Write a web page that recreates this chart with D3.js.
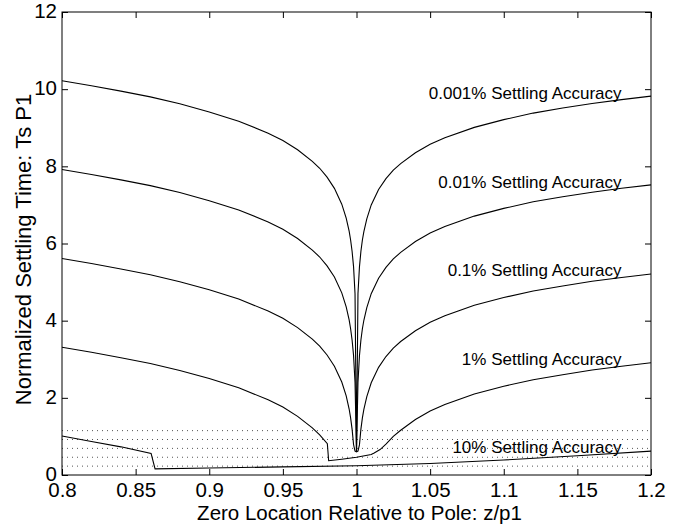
<!DOCTYPE html>
<html>
<head>
<meta charset="utf-8">
<script src="https://cdn.jsdelivr.net/npm/d3@7"></script>
<style>
  body { margin: 0; background: #fff; }
  svg text { font-family: "Liberation Sans", Arial, Helvetica, sans-serif; fill: #000; }
</style>
</head>
<body>
<svg id="chart" width="681" height="527"></svg>
<script>
// values
const xTicks = [0.8, 0.85, 0.9, 0.95, 1, 1.05, 1.1, 1.15, 1.2];
const yTicks = [0, 2, 4, 6, 8, 10, 12];

// 0.001% curve
const x0001 = [0.80, 0.82, 0.84, 0.86, 0.88, 0.90, 0.92, 0.94, 0.95, 0.96, 0.97, 0.975, 0.98, 0.985, 0.99, 0.993, 0.995, 0.996, 0.997, 0.998, 0.999, 1.000, 1.001, 1.002, 1.003, 1.004, 1.005, 1.007, 1.01, 1.015, 1.02, 1.025, 1.03, 1.04, 1.05, 1.06, 1.08, 1.10, 1.12, 1.14, 1.16, 1.18, 1.20];
const y0001 = [10.22, 10.09, 9.95, 9.80, 9.62, 9.41, 9.17, 8.86, 8.67, 8.43, 8.13, 7.95, 7.72, 7.43, 7.02, 6.66, 6.32, 6.09, 5.80, 5.40, 4.70, 0.60, 4.70, 5.39, 5.80, 6.09, 6.31, 6.64, 7.00, 7.40, 7.68, 7.90, 8.07, 8.35, 8.57, 8.74, 9.01, 9.21, 9.38, 9.51, 9.63, 9.73, 9.82];

// 0.01% curve
const x001 = x0001;
const y001 = [7.92, 7.79, 7.65, 7.50, 7.32, 7.11, 6.87, 6.56, 6.37, 6.13, 5.83, 5.65, 5.42, 5.13, 4.72, 4.36, 4.02, 3.79, 3.50, 3.10, 2.40, 0.60, 2.40, 3.09, 3.50, 3.79, 4.01, 4.34, 4.70, 5.10, 5.38, 5.60, 5.77, 6.05, 6.27, 6.44, 6.71, 6.91, 7.08, 7.21, 7.33, 7.43, 7.52];

// 0.1% curve
const x01 = x0001;
const y01 = [5.61, 5.48, 5.34, 5.19, 5.01, 4.80, 4.56, 4.25, 4.06, 3.82, 3.52, 3.34, 3.11, 2.82, 2.41, 2.05, 1.71, 1.48, 1.19, 0.79, 0.62, 0.60, 0.62, 0.78, 1.19, 1.48, 1.70, 2.03, 2.39, 2.79, 3.07, 3.29, 3.46, 3.74, 3.96, 4.13, 4.40, 4.60, 4.77, 4.90, 5.02, 5.12, 5.21];

// 1% curve
const x1 = [0.80, 0.82, 0.84, 0.86, 0.88, 0.90, 0.92, 0.94, 0.95, 0.96, 0.97, 0.975, 0.9802, 0.9811, 0.99, 1.00, 1.01, 1.012, 1.016, 1.02, 1.025, 1.03, 1.04, 1.05, 1.06, 1.08, 1.10, 1.12, 1.14, 1.16, 1.18, 1.20];
const y1 = [3.31, 3.18, 3.04, 2.89, 2.71, 2.50, 2.26, 1.95, 1.76, 1.52, 1.22, 1.04, 0.81, 0.37, 0.41, 0.46, 0.53, 0.57, 0.66, 0.80, 1.00, 1.16, 1.44, 1.66, 1.83, 2.10, 2.30, 2.47, 2.60, 2.72, 2.82, 2.91];

// 10% curve
const x10 = [0.80, 0.82, 0.84, 0.8605, 0.8632, 0.90, 0.95, 1.00, 1.05, 1.10, 1.15, 1.20];
const y10 = [1.01, 0.87, 0.73, 0.56, 0.16, 0.18, 0.21, 0.24, 0.30, 0.39, 0.50, 0.62];

// dotted reference levels
const dotLevels = [0.23, 0.46, 0.69, 0.92, 1.15];

// curve labels
const labelText = ["0.001% Settling Accuracy", "0.01% Settling Accuracy", "0.1% Settling Accuracy", "1% Settling Accuracy", "10% Settling Accuracy"];
const labelY = [9.74, 7.44, 5.15, 2.85, 0.58];

const width = 681, height = 527;
const margin = { top: 12, right: 30, bottom: 52, left: 62 };

const svg = d3.select('#chart');

const x = d3.scaleLinear().domain([0.8, 1.2]).range([margin.left, width - margin.right]);
const y = d3.scaleLinear().domain([0, 12]).range([height - margin.bottom, margin.top]);

// dotted lines
svg.append('g')
    .selectAll('line')
    .data(dotLevels)
    .join('line')
    .attr('x1', x(0.8))
    .attr('x2', x(1.2))
    .attr('y1', d => y(d))
    .attr('y2', d => y(d))
    .attr('stroke', '#555')
    .attr('stroke-width', 1)
    .attr('stroke-dasharray', '1,4');

// curves
const line = d3.line().x(d => x(d[0])).y(d => y(d[1]));
const series = [[x0001, y0001], [x001, y001], [x01, y01], [x1, y1], [x10, y10]];
series.forEach(s => {
    svg.append('path')
        .datum(s[0].map((v, i) => [v, s[1][i]]))
        .attr('fill', 'none')
        .attr('stroke', '#000')
        .attr('stroke-width', 1.1)
        .attr('d', line);
});

// axes, ticks inside on all four sides
const fmt = d3.format('~g');
const tick = 6;

svg.append('g')
    .attr('transform', `translate(0,${y(0)})`)
    .call(d3.axisBottom(x).tickValues(xTicks).tickFormat(fmt).tickSizeInner(-tick).tickSizeOuter(0).tickPadding(7))
    .call(g => g.selectAll('text').style('font-size', '20.5px'));

svg.append('g')
    .attr('transform', `translate(${x(0.8)},0)`)
    .call(d3.axisLeft(y).tickValues(yTicks).tickFormat(fmt).tickSizeInner(-tick).tickSizeOuter(0).tickPadding(5))
    .call(g => g.selectAll('text').style('font-size', '20.5px').attr('dy', '0.28em'));

svg.append('g')
    .attr('transform', `translate(0,${y(12)})`)
    .call(d3.axisTop(x).tickValues(xTicks).tickFormat('').tickSizeInner(-tick).tickSizeOuter(0));

svg.append('g')
    .attr('transform', `translate(${x(1.2)},0)`)
    .call(d3.axisRight(y).tickValues(yTicks).tickFormat('').tickSizeInner(-tick).tickSizeOuter(0));

svg.selectAll('.domain').remove();
svg.selectAll('.tick line').attr('stroke', '#000');

svg.append('rect')
    .attr('x', x(0.8))
    .attr('y', y(12))
    .attr('width', x(1.2) - x(0.8))
    .attr('height', y(0) - y(12))
    .attr('fill', 'none')
    .attr('stroke', '#000')
    .attr('stroke-width', 1);

// curve labels
svg.append('g')
    .selectAll('text')
    .data(labelText)
    .join('text')
    .attr('x', x(1.18))
    .attr('y', (d, i) => y(labelY[i]))
    .attr('text-anchor', 'end')
    .style('font-size', '17px')
    .text(d => d);

// axis titles
svg.append('text')
    .attr('x', (x(0.8) + x(1.2)) / 2 + 3)
    .attr('y', 520)
    .attr('text-anchor', 'middle')
    .style('font-size', '20.5px')
    .text('Zero Location Relative to Pole: z/p1');

svg.append('text')
    .attr('transform', `translate(31,${(y(0) + y(12)) / 2 + 6}) rotate(-90)`)
    .attr('text-anchor', 'middle')
    .style('font-size', '22px')
    .text('Normalized Settling Time: Ts P1');
</script>
</body>
</html>
